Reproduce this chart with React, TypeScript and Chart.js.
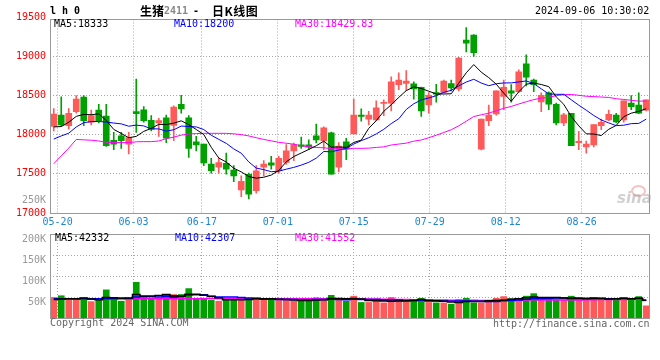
import React, { useEffect, useRef } from 'react';
import { Chart, registerables } from 'chart.js';

Chart.register(...registerables);

// ---------------- data ----------------
const dates = [
  '05-17', '05-20', '05-21', '05-22', '05-23', '05-24', '05-27', '05-28', '05-29', '05-30', '05-31',
  '06-03', '06-04', '06-05', '06-06', '06-07', '06-11', '06-12', '06-13', '06-14', '06-17', '06-18', '06-19', '06-20', '06-21', '06-24', '06-25', '06-26', '06-27', '06-28',
  '07-01', '07-02', '07-03', '07-04', '07-05', '07-08', '07-09', '07-10', '07-11', '07-12', '07-15', '07-16', '07-17', '07-18', '07-19', '07-22', '07-23', '07-24', '07-25', '07-26', '07-29', '07-30', '07-31',
  '08-01', '08-02', '08-05', '08-06', '08-07', '08-08', '08-09', '08-12', '08-13', '08-14', '08-15', '08-16', '08-19', '08-20', '08-21', '08-22', '08-23', '08-26', '08-27', '08-28', '08-29', '08-30',
  '09-02', '09-03', '09-04', '09-05', '09-06',
];
const xTickLabels = ['05-20', '06-03', '06-17', '07-01', '07-15', '07-29', '08-12', '08-26'];
const priceTicks = [17000, 17500, 18000, 18500, 19000, 19500];
const volTicks = [50000, 100000, 150000, 200000];

const opens = [
  18105, 18250, 18115, 18295, 18480, 18160, 18315, 18240, 17930, 17985, 17880, 18295, 18320, 18185, 18150, 18215,
  18120, 18390, 18215, 17910, 17880, 17625, 17585, 17635, 17550, 17295, 17495, 17285, 17585, 17640, 17540, 17645,
  17795, 17870, 17870, 17985, 17925, 18025, 17585, 17910, 18010, 18250, 18200, 18190, 18400, 18405, 18640, 18655,
  18650, 18605, 18380, 18540, 18540, 18655, 18585, 19210, 19275, 17815, 18180, 18265, 18490, 18560, 18550, 18905,
  18700, 18420, 18535, 18390, 18150, 18275, 17900, 17845, 17870, 18115, 18190, 18250, 18190, 18405, 18380, 18315,
];
const closes = [
  18265, 18125, 18275, 18455, 18180, 18245, 18180, 17860, 17880, 17925, 17965, 18270, 18180, 18070, 18180, 17955,
  18355, 18330, 17825, 17870, 17640, 17540, 17645, 17560, 17475, 17405, 17240, 17540, 17625, 17610, 17700, 17795,
  17875, 17850, 17840, 17935, 18090, 17495, 17855, 17815, 18250, 18235, 18250, 18345, 18415, 18675, 18700, 18685,
  18585, 18305, 18505, 18520, 18685, 18600, 18980, 19170, 19050, 18200, 18250, 18560, 18605, 18530, 18805, 18735,
  18640, 18505, 18390, 18150, 18255, 17860, 17915, 17880, 18130, 18160, 18260, 18165, 18435, 18360, 18275, 18445,
];
const highs = [
  18335, 18485, 18335, 18500, 18500, 18315, 18390, 18390, 18030, 18030, 18030, 18710, 18360, 18245, 18210, 18250,
  18370, 18505, 18245, 17980, 17880, 17700, 17700, 17765, 17605, 17475, 17510, 17605, 17670, 17725, 17725, 17875,
  17895, 17970, 17935, 18135, 18100, 18035, 17900, 17955, 18455, 18330, 18300, 18435, 18445, 18740, 18790, 18820,
  18675, 18610, 18540, 18645, 18700, 18700, 18990, 19370, 19280, 18200, 18380, 18560, 18700, 18640, 18830, 19020,
  18710, 18535, 18550, 18405, 18275, 18275, 18045, 17920, 18130, 18200, 18315, 18275, 18435, 18500, 18535, 18445,
];
const lows = [
  18050, 18105, 18070, 18275, 18115, 18125, 18150, 17850, 17810, 17825, 17755, 18030, 18160, 18050, 17980, 17900,
  17925, 18275, 17710, 17795, 17605, 17510, 17510, 17495, 17400, 17210, 17180, 17255, 17475, 17560, 17510, 17620,
  17670, 17825, 17810, 17895, 17810, 17495, 17525, 17680, 18010, 18175, 18125, 18180, 18245, 18305, 18575, 18565,
  18455, 18235, 18275, 18415, 18535, 18560, 18560, 19060, 19000, 17805, 18115, 18250, 18320, 18415, 18540, 18625,
  18550, 18295, 18320, 18125, 18115, 17860, 17810, 17765, 17845, 18065, 18180, 18150, 18160, 18320, 18270, 18305,
];

const ma5 = [
  18100, 18105, 18160, 18235, 18260, 18256, 18267, 18183, 18068, 18017, 17962, 17979, 18043, 18082, 18133, 18131,
  18148, 18178, 18129, 18067, 18003, 17840, 17703, 17651, 17572, 17525, 17466, 17445, 17457, 17485, 17543, 17654,
  17721, 17767, 17812, 17859, 17918, 17842, 17843, 17839, 17902, 17931, 18082, 18180, 18299, 18384, 18477, 18564,
  18612, 18591, 18557, 18521, 18521, 18524, 18659, 18792, 18897, 18800, 18730, 18646, 18532, 18428, 18549, 18646,
  18662, 18642, 18615, 18484, 18389, 18233, 18114, 18012, 18009, 17990, 18070, 18120, 18231, 18276, 18299, 18333,
];
const ma10 = [
  17945, 17985, 18020, 18100, 18155, 18168, 18170, 18162, 18150, 18139, 18109, 18123, 18113, 18075, 18075, 18046,
  18064, 18111, 18105, 18100, 18067, 17994, 17941, 17890, 17819, 17764, 17653, 17574, 17554, 17528, 17534, 17560,
  17583, 17612, 17648, 17701, 17786, 17782, 17805, 17825, 17881, 17924, 17962, 18011, 18069, 18143, 18204, 18323,
  18396, 18445, 18470, 18499, 18542, 18568, 18625, 18674, 18709, 18661, 18627, 18652, 18662, 18663, 18675, 18688,
  18654, 18587, 18522, 18517, 18517, 18447, 18378, 18314, 18246, 18189, 18151, 18117, 18122, 18142, 18145, 18200,
];
const ma30 = [
  17630, 17730, 17830, 17940, 17935, 17930, 17920, 17905, 17900, 17900, 17900, 17910, 17912, 17912, 17920, 17950,
  17970, 17995, 18010, 18015, 18018, 18018, 18018, 18018, 18012, 18002, 17985, 17962, 17940, 17922, 17903, 17892,
  17879, 17859, 17848, 17837, 17834, 17822, 17821, 17818, 17827, 17826, 17829, 17838, 17845, 17869, 17881, 17893,
  17918, 17933, 17962, 17994, 18029, 18064, 18114, 18173, 18233, 18255, 18276, 18307, 18338, 18362, 18393, 18422,
  18449, 18468, 18478, 18500, 18513, 18515, 18504, 18492, 18488, 18482, 18477, 18460, 18451, 18440, 18430, 18430,
];

const volumes = [
  49000, 53000, 42000, 45000, 48000, 39000, 44000, 67000, 44000, 40000, 44000, 85000, 48000, 45000, 46000, 56000,
  56000, 56000, 70000, 45000, 45000, 42000, 40000, 45000, 45000, 46000, 45000, 48000, 45000, 44000, 42000, 42000,
  40000, 40000, 45000, 48000, 44000, 54000, 42000, 40000, 52000, 37000, 37000, 40000, 36000, 49000, 40000, 40000,
  44000, 47000, 37000, 36000, 36000, 33000, 44000, 47000, 36000, 36000, 42000, 47000, 51000, 46000, 44000, 52000,
  58000, 44000, 45000, 46000, 44000, 52000, 44000, 42000, 49000, 46000, 46000, 46000, 49000, 42000, 51000, 29000,
];
const volMa5 = [
  44000, 45000, 46000, 46000, 47400, 45400, 43600, 48600, 48400, 46800, 47800, 56000, 52200, 52400, 53600, 56000,
  50200, 51800, 56800, 56600, 54400, 51600, 48400, 43400, 43400, 43600, 44200, 45800, 45800, 45600, 44800, 44200,
  42600, 41600, 41800, 43000, 43400, 46200, 46600, 45600, 46400, 45000, 41600, 41200, 40400, 39800, 40400, 41000,
  41800, 44000, 41600, 40800, 40000, 37800, 37200, 39200, 39200, 39200, 41000, 41600, 42400, 44400, 46000, 48000,
  50200, 48800, 48600, 49000, 47400, 46200, 46200, 45600, 46200, 46600, 45400, 45800, 47200, 45800, 46800, 42332,
];
const volMa10 = [
  46000, 46000, 46000, 46000, 46000, 46000, 46000, 46000, 46000, 47100, 46600, 49800, 50400, 50400, 50200, 51900,
  53100, 52000, 54600, 55100, 55200, 50900, 50100, 50100, 50000, 49000, 47900, 47100, 44600, 44500, 44200, 44200,
  44200, 43700, 43700, 43900, 43800, 44400, 44100, 43700, 44700, 44200, 43900, 43900, 43000, 43100, 42700, 41300,
  41500, 42200, 40700, 40600, 40500, 39800, 40600, 40400, 40000, 39600, 39400, 39400, 40800, 41800, 42600, 44500,
  45900, 45600, 46500, 47500, 47700, 48200, 47500, 47100, 47600, 47000, 45800, 46000, 46400, 46000, 46700, 42307,
];
const volMa30 = [
  45000, 45000, 45000, 45000, 45000, 45000, 45000, 45000, 45000, 45000, 46000, 46000, 46000, 46000, 46000, 46000,
  46000, 46000, 46000, 46000, 46000, 46000, 46000, 46000, 46000, 46000, 46000, 46000, 46000, 46000, 46000, 46000,
  46000, 46000, 46000, 46000, 46000, 46000, 46000, 46000, 46000, 45500, 45200, 45000, 44800, 44600, 44300, 44000,
  43400, 43500, 43200, 43000, 42900, 42500, 42400, 42500, 42200, 41800, 41700, 41800, 42100, 42200, 42300, 42700,
  43200, 43000, 43100, 42800, 42900, 43300, 43000, 43200, 43600, 43800, 44100, 44000, 44300, 44400, 44600, 41552,
];

const priceLegend = ['MA5:18333', 'MA10:18200', 'MA30:18429.83'];
const volumeLegend = ['MA5:42332', 'MA10:42307', 'MA30:41552'];
const legendColors = ['#000000', '#0000ff', '#ff00ff'];
const symbolName = '生猪';
const contractCode = '2411';
const chartKind = '日K线图';
const timestamp = '2024-09-06 10:30:02';
const volOverflowLabel = '250K';
const copyrightText = 'Copyright 2024 SINA.COM';
const siteText = 'http://finance.sina.com.cn';

// ---------------- styles ----------------
const RED = '#ff5a5a';
const GREEN = '#00a000';
const GRID = '#a8a8a8';
const BORDER = '#999999';
const XLABEL = '#1a86d6';
const MONO = "'DejaVu Sans Mono', monospace";
const tickFont = { family: 'DejaVu Sans Mono', size: 10 };

const candleColors = closes.map((c, i) => (c >= opens[i] ? RED : GREEN));
const isLabeled = (i: number) => xTickLabels.includes(dates[i]);

const boxPlugin = {
  id: 'boxPlugin',
  afterDatasetsDraw(chart: any) {
    const { ctx, chartArea: a } = chart;
    const x0 = Math.floor(a.left) + 0.5;
    const y0 = Math.floor(a.top) + 0.5;
    const x1 = Math.ceil(a.right) - 0.5;
    const y1 = Math.floor(a.bottom) + 0.5;
    ctx.save();
    ctx.strokeStyle = BORDER;
    ctx.lineWidth = 1;
    ctx.strokeRect(x0, y0, x1 - x0, y1 - y0);
    ctx.restore();
  },
};

const overflowLabelPlugin = {
  id: 'overflowLabel',
  afterDraw(chart: any) {
    const { ctx, chartArea: a } = chart;
    ctx.save();
    ctx.font = "10px 'DejaVu Sans Mono'";
    ctx.fillStyle = '#999999';
    ctx.textAlign = 'right';
    ctx.textBaseline = 'middle';
    ctx.fillText(volOverflowLabel, a.left - 4, a.bottom - 13);
    ctx.restore();
  },
};

const xGridAxis = (showLabels: boolean, height: number) => ({
  type: 'category',
  labels: dates,
  offset: false,
  position: 'bottom',
  grid: {
    offset: false,
    drawTicks: false,
    lineWidth: 1,
    color: (ctx: any) => (isLabeled(ctx.index) ? GRID : 'rgba(0,0,0,0)'),
  },
  border: { display: false, dash: [1, 2] },
  ticks: {
    display: showLabels,
    autoSkip: false,
    maxRotation: 0,
    minRotation: 0,
    padding: 3,
    color: XLABEL,
    font: tickFont,
    callback: (_v: any, i: number) => (isLabeled(i) ? dates[i] : ''),
  },
  afterFit: (s: any) => {
    s.height = height;
  },
});

export default function App() {
  const priceRef = useRef<HTMLCanvasElement | null>(null);
  const volRef = useRef<HTMLCanvasElement | null>(null);

  useEffect(() => {
    if (!priceRef.current || !volRef.current) return;

    const lineDs = (label: string, data: number[], color: string, width: number, stepped: any) => ({
      type: 'line',
      label,
      data,
      borderColor: color,
      backgroundColor: color,
      borderWidth: width,
      pointRadius: 0,
      tension: 0,
      fill: false,
      stepped,
      order: 0,
      xAxisID: 'x',
      yAxisID: 'y',
    });

    const priceChart = new Chart(priceRef.current, {
      type: 'bar',
      data: {
        labels: dates,
        datasets: [
          lineDs('MA5', ma5, '#000000', 1, false),
          lineDs('MA10', ma10, '#0000ff', 1, false),
          lineDs('MA30', ma30, '#ff00ff', 1, false),
          {
            type: 'bar',
            label: 'body',
            data: opens.map((o, i) => [o, closes[i]]),
            backgroundColor: candleColors,
            borderWidth: 0,
            barThickness: 6,
            grouped: false,
            minBarLength: 1,
            order: 1,
            xAxisID: 'x',
            yAxisID: 'y',
          },
          {
            type: 'bar',
            label: 'wick',
            data: lows.map((l, i) => [l, highs[i]]),
            backgroundColor: candleColors,
            borderWidth: 0,
            barThickness: 1,
            grouped: false,
            order: 2,
            xAxisID: 'x',
            yAxisID: 'y',
          },
        ] as any,
      },
      options: {
        animation: false,
        responsive: false,
        maintainAspectRatio: false,
        devicePixelRatio: 1,
        events: [],
        layout: { padding: { top: 19.5, right: 10, left: 0, bottom: 0 } },
        plugins: { legend: { display: false }, tooltip: { enabled: false } },
        scales: {
          x: { type: 'category', offset: true, display: false, grid: { offset: true } },
          x2: xGridAxis(true, 19),
          y: {
            type: 'linear',
            min: 17000,
            max: 19473,
            afterBuildTicks: (s: any) => {
              s.ticks = priceTicks.map((v) => ({ value: v }));
            },
            afterFit: (s: any) => {
              s.width = 50;
            },
            grid: {
              drawTicks: false,
              lineWidth: 1,
              color: (ctx: any) =>
                ctx.tick && (ctx.tick.value === 17000 || ctx.tick.value === 19500) ? 'rgba(0,0,0,0)' : GRID,
            },
            border: { display: false, dash: [1, 2] },
            ticks: {
              color: '#ff0000',
              font: tickFont,
              padding: 4,
              callback: (v: any) => String(v),
            },
          },
        } as any,
      },
      plugins: [boxPlugin, overflowLabelPlugin],
    } as any);

    const volChart = new Chart(volRef.current, {
      type: 'bar',
      data: {
        labels: dates,
        datasets: [
          lineDs('VMA5', volMa5, '#000000', 1.5, 'middle'),
          lineDs('VMA10', volMa10, '#0000ff', 1.5, 'middle'),
          lineDs('VMA30', volMa30, '#ff00ff', 1.5, 'middle'),
          {
            type: 'bar',
            label: 'volume',
            data: volumes,
            backgroundColor: candleColors,
            borderWidth: 0,
            barThickness: 6,
            grouped: false,
            order: 1,
            xAxisID: 'x',
            yAxisID: 'y',
          },
        ] as any,
      },
      options: {
        animation: false,
        responsive: false,
        maintainAspectRatio: false,
        devicePixelRatio: 1,
        events: [],
        layout: { padding: { top: 10, right: 10, left: 0, bottom: 10 } },
        plugins: { legend: { display: false }, tooltip: { enabled: false } },
        scales: {
          x: { type: 'category', offset: true, display: false, grid: { offset: true } },
          x2: xGridAxis(false, 0),
          y: {
            type: 'linear',
            min: 0,
            max: 200000,
            afterBuildTicks: (s: any) => {
              s.ticks = volTicks.map((v) => ({ value: v }));
            },
            afterFit: (s: any) => {
              s.width = 50;
            },
            grid: {
              drawTicks: false,
              lineWidth: 1,
              color: (ctx: any) => (ctx.tick && ctx.tick.value === 200000 ? 'rgba(0,0,0,0)' : GRID),
            },
            border: { display: false, dash: [1, 2] },
            ticks: {
              color: '#999999',
              font: tickFont,
              padding: 4,
              labelOffset: 5,
              callback: (v: any) => `${Number(v) / 1000}K`,
            },
          },
        } as any,
      },
      plugins: [boxPlugin],
    } as any);

    return () => {
      priceChart.destroy();
      volChart.destroy();
    };
  }, []);

  const mono: React.CSSProperties = {
    position: 'absolute',
    fontFamily: MONO,
    fontSize: 10,
    lineHeight: '12px',
    whiteSpace: 'pre',
  };
  const legendX = [54, 174, 295];
  const volLegendX = [55, 175, 295];

  return (
    <div
      style={{
        position: 'absolute',
        left: 0,
        top: 0,
        width: 660,
        height: 360,
        background: '#ffffff',
        overflow: 'hidden',
      }}
    >
      <canvas ref={priceRef} width={660} height={232} style={{ position: 'absolute', left: 0, top: 0 }} />
      <canvas ref={volRef} width={660} height={104} style={{ position: 'absolute', left: 0, top: 224 }} />

      <div style={{ ...mono, left: 50, top: 5, fontWeight: 'bold', color: '#000' }}>l h 0</div>
      <div
        style={{
          position: 'absolute',
          left: 140,
          top: 3,
          fontFamily: "'Noto Sans CJK SC', sans-serif",
          fontSize: 12,
          fontWeight: 'bold',
          lineHeight: '16px',
          whiteSpace: 'pre',
          color: '#000',
        }}
      >
        {symbolName}
      </div>
      <div style={{ ...mono, left: 164, top: 5, fontWeight: 'bold', color: '#888' }}>{contractCode}</div>
      <div style={{ ...mono, left: 193, top: 5, fontWeight: 'bold', color: '#000' }}>-</div>
      <div
        style={{
          position: 'absolute',
          left: 212,
          top: 3,
          fontFamily: "'Noto Sans CJK SC', sans-serif",
          fontSize: 12,
          fontWeight: 'bold',
          lineHeight: '16px',
          letterSpacing: '0.5px',
          whiteSpace: 'pre',
          color: '#000',
        }}
      >
        {chartKind}
      </div>
      <div style={{ ...mono, left: 535, top: 5, color: '#000' }}>{timestamp}</div>

      {priceLegend.map((t, i) => (
        <div key={t} style={{ ...mono, left: legendX[i], top: 18, color: legendColors[i] }}>
          {t}
        </div>
      ))}
      {volumeLegend.map((t, i) => (
        <div key={t} style={{ ...mono, left: volLegendX[i], top: 232, color: legendColors[i] }}>
          {t}
        </div>
      ))}

      <div
        style={{
          position: 'absolute',
          left: 631,
          top: 185,
          width: 11,
          height: 8,
          border: '2px solid rgba(235,120,120,0.45)',
          borderRadius: '50%',
        }}
      />
      <div
        style={{
          position: 'absolute',
          left: 617,
          top: 189,
          fontFamily: "'DejaVu Sans', sans-serif",
          fontStyle: 'italic',
          fontWeight: 'bold',
          fontSize: 15,
          lineHeight: '18px',
          color: 'rgba(150,150,150,0.45)',
        }}
      >
        sina
      </div>

      <div style={{ ...mono, left: 50, top: 317, color: '#666' }}>{copyrightText}</div>
      <div style={{ ...mono, left: 493, top: 318, color: '#666' }}>{siteText}</div>
    </div>
  );
}
